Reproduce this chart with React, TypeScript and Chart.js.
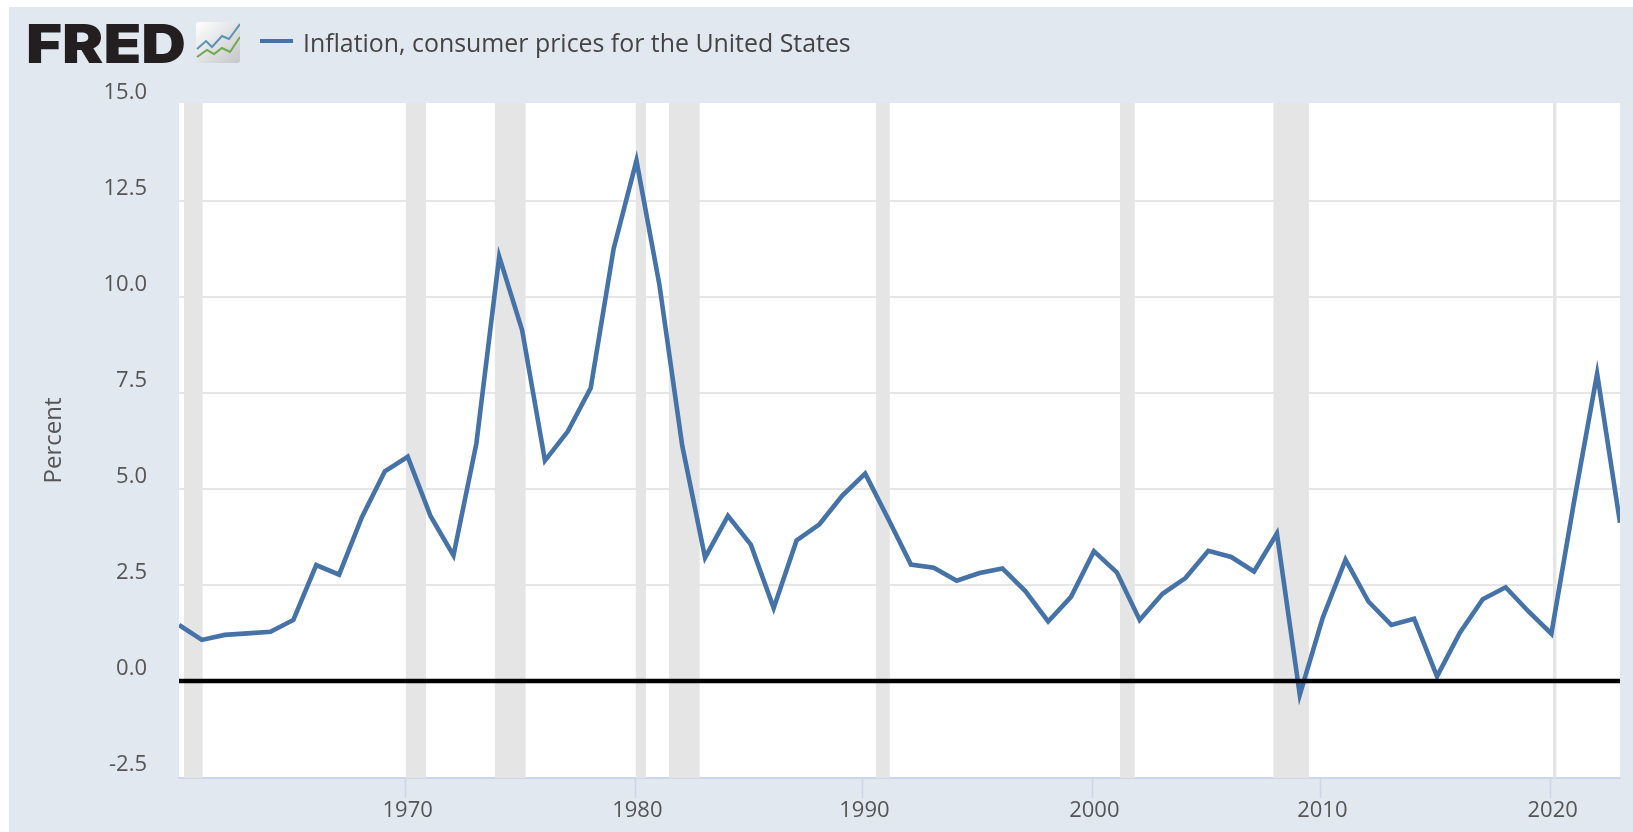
import React, { useEffect, useRef } from "react";
import { Chart, registerables } from "chart.js";

Chart.register(...registerables);

const years = [
  1960, 1961, 1962, 1963, 1964, 1965, 1966, 1967, 1968, 1969,
  1970, 1971, 1972, 1973, 1974, 1975, 1976, 1977, 1978, 1979,
  1980, 1981, 1982, 1983, 1984, 1985, 1986, 1987, 1988, 1989,
  1990, 1991, 1992, 1993, 1994, 1995, 1996, 1997, 1998, 1999,
  2000, 2001, 2002, 2003, 2004, 2005, 2006, 2007, 2008, 2009,
  2010, 2011, 2012, 2013, 2014, 2015, 2016, 2017, 2018, 2019,
  2020, 2021, 2022, 2023,
];
const inflation = [
  1.46, 1.07, 1.2, 1.24, 1.28, 1.59, 3.02, 2.77, 4.27, 5.46,
  5.84, 4.29, 3.27, 6.18, 11.05, 9.14, 5.74, 6.5, 7.63, 11.25,
  13.55, 10.33, 6.13, 3.21, 4.3, 3.55, 1.9, 3.66, 4.08, 4.83,
  5.4, 4.23, 3.03, 2.95, 2.61, 2.81, 2.93, 2.34, 1.55, 2.19,
  3.38, 2.83, 1.59, 2.27, 2.68, 3.39, 3.23, 2.85, 3.84, -0.36,
  1.64, 3.16, 2.07, 1.46, 1.62, 0.12, 1.26, 2.13, 2.44, 1.81,
  1.23, 4.7, 8.0, 4.12,
];
const recessionStart = [1960.22, 1969.91, 1973.8, 1979.96, 1981.41, 1990.46, 2001.14, 2007.84, 2020.06];
const recessionEnd = [1961.04, 1970.8, 1975.16, 1980.42, 1982.77, 1991.08, 2001.79, 2009.4, 2020.23];
const xTickPositions = [1969.91, 1979.95, 1989.88, 1999.93, 2009.9, 2019.97];
const xTickLabels = ["1970", "1980", "1990", "2000", "2010", "2020"];
const yTicks = [-2.5, 0, 2.5, 5, 7.5, 10, 12.5, 15];
const yTickLabels = ["-2.5", "0.0", "2.5", "5.0", "7.5", "10.0", "12.5", "15.0"];
const yMin = -2.526;
const yMax = 15.05;
const seriesName = "Inflation, consumer prices for the United States";
const axisTitle = "Percent";

const FONT = '"Open Sans", sans-serif';
const PANEL = "#e1e8f0";
const LINE = "#4572a7";
const TEXT = "#555555";

const plotBackground = {
  id: "plotBackground",
  beforeDraw(chart: any) {
    const { ctx, chartArea: a } = chart;
    ctx.save();
    ctx.fillStyle = "#ffffff";
    ctx.fillRect(a.left, a.top, a.right - a.left, a.bottom - a.top);
    ctx.restore();
  },
};

export default function App() {
  const ref = useRef<HTMLCanvasElement>(null);

  useEffect(() => {
    const bands: any[] = [];
    recessionStart.forEach((s, i) => {
      bands.push({ x: s, y: yMax }, { x: recessionEnd[i], y: yMax }, { x: recessionEnd[i] + 0.01, y: null });
    });
    const chart = new Chart(ref.current!, {
      type: "line",
      data: {
        datasets: [
          {
            label: "Zero",
            data: [{ x: years[0], y: 0 }, { x: years[years.length - 1], y: 0 }],
            borderColor: "#000000",
            borderWidth: 4.5,
            pointRadius: 0,
            order: 0,
          },
          {
            label: seriesName,
            data: years.map((y, i) => ({ x: y, y: inflation[i] })),
            borderColor: LINE,
            borderWidth: 4.6,
            pointRadius: 0,
            tension: 0,
            borderJoinStyle: "miter",
            order: 1,
          },
          {
            label: "Recessions",
            data: bands,
            borderWidth: 0,
            borderColor: "transparent",
            backgroundColor: "#e5e5e5",
            pointRadius: 0,
            fill: "start",
            spanGaps: false,
            order: 2,
          },
        ],
      },
      options: {
        responsive: false,
        animation: false,
        parsing: { xAxisKey: "x", yAxisKey: "y" },
        layout: { padding: { top: 103, right: 13, left: 0, bottom: 0 } },
        plugins: { legend: { display: false }, tooltip: { enabled: false }, title: { display: false } },
        scales: {
          x: {
            type: "linear",
            min: 1960,
            max: 2023,
            afterBuildTicks: (s: any) => {
              s.ticks = xTickPositions.map((v) => ({ value: v }));
            },
            afterFit: (s: any) => {
              s.height = 54;
              s.paddingLeft = 0;
              s.paddingRight = 0;
            },
            border: { color: "#ccd6eb", width: 2 },
            grid: { drawOnChartArea: false, drawTicks: true, tickLength: 20, tickColor: "#ccd6eb", tickWidth: 1.5 },
            ticks: {
              autoSkip: false,
              maxRotation: 0,
              minRotation: 0,
              padding: 0,
              labelOffset: 2,
              color: TEXT,
              font: { family: FONT, size: 22 },
              callback: (_v: any, i: number) => xTickLabels[i],
            },
          },
          y: {
            type: "linear",
            min: yMin,
            max: yMax,
            afterBuildTicks: (s: any) => {
              s.ticks = yTicks.map((v) => ({ value: v }));
            },
            afterFit: (s: any) => {
              s.width = 179;
              s.paddingTop = 0;
              s.paddingBottom = 0;
            },
            border: { display: false },
            grid: {
              drawTicks: false,
              lineWidth: 2,
              color: (c: any) => (c.index === 0 || c.index === yTicks.length - 1 ? "transparent" : "#e6e6e6"),
            },
            title: {
              display: true,
              text: axisTitle,
              color: TEXT,
              padding: { top: 40, bottom: 0 },
              font: { family: FONT, size: 24 },
            },
            ticks: {
              padding: 32,
              color: TEXT,
              font: { family: FONT, size: 22, lineHeight: 1.08 },
              callback: (_v: any, i: number) => [yTickLabels[i], ""],
            },
          },
        },
      } as any,
      plugins: [plotBackground],
    } as any);
    return () => chart.destroy();
  }, []);

  return (
    <div style={{ position: "absolute", left: 0, top: 0, width: 1633, height: 832, background: "#fff", overflow: "hidden" }}>
      <div style={{ position: "absolute", left: 9, top: 7, right: 0, bottom: 0, background: PANEL }} />
      <canvas ref={ref} width={1633} height={832} style={{ position: "absolute", left: 0, top: 0, display: "block" }} />
      <svg width={240} height={70} style={{ position: "absolute", left: 0, top: 0 }}>
        <defs>
          <linearGradient id="tile" x1="0" y1="0" x2="1" y2="1">
            <stop offset="0" stopColor="#ffffff" />
            <stop offset="1" stopColor="#c4c6c8" />
          </linearGradient>
        </defs>
        <text x={26} y={63} textLength={160} lengthAdjust="spacingAndGlyphs" fontFamily="Inter, 'Liberation Sans', sans-serif" fontWeight={900} fontSize={53} fill="#231f20">FRED</text>
        <rect x={196} y={22} width={44} height={41} rx={3} fill="url(#tile)" />
        <polyline points="197,49 206,41 212,47 222,36 229,39 240,24" fill="none" stroke="#5b93b5" strokeWidth={2} />
        <polyline points="197,57 207,50 214,54 222,48 230,52 240,37" fill="none" stroke="#70a84f" strokeWidth={2} />
      </svg>
      <div style={{ position: "absolute", left: 260, top: 39, width: 33, height: 4, background: LINE }} />
      <div style={{ position: "absolute", left: 303, top: 26, fontFamily: FONT, fontSize: 24.9, lineHeight: "32px", color: "#444444", whiteSpace: "nowrap" }}>
        {seriesName}
      </div>
    </div>
  );
}
